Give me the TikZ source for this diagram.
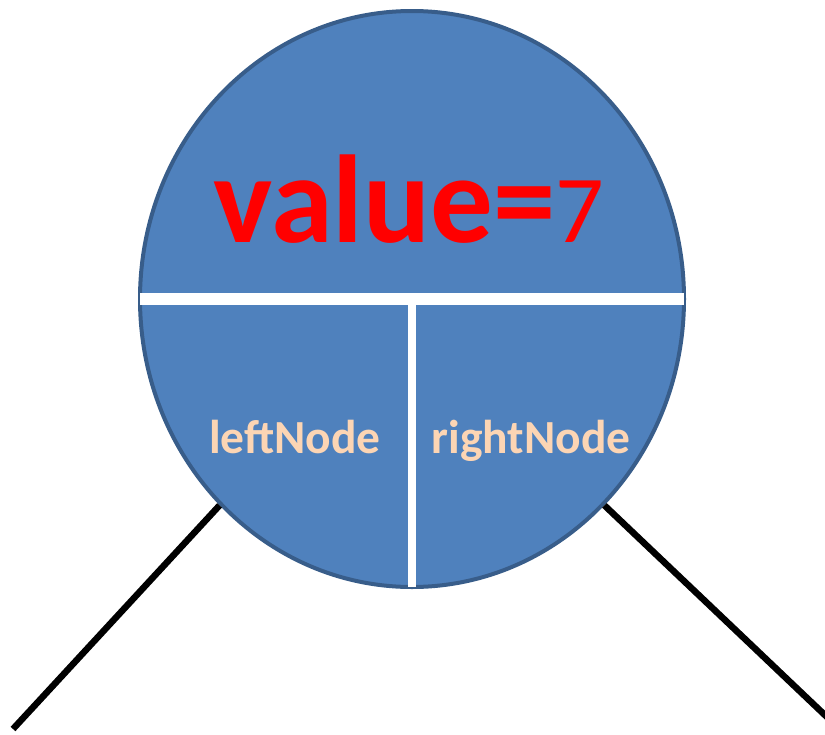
\documentclass[tikz,border=0pt]{standalone}
\usepackage{fontspec}
\setmainfont{Carlito}
\usetikzlibrary{shapes.geometric}
\definecolor{nodeblue}{HTML}{4F81BD}
\definecolor{nodeedge}{HTML}{385D8A}
\definecolor{peach}{HTML}{FCD5B4}

\begin{document}
\begin{tikzpicture}[x=1pt,y=-1pt]

\useasboundingbox (0,0) rectangle (825,734);

\node[ellipse,draw=nodeedge,fill=nodeblue,line width=4pt,minimum width=544pt,minimum height=576pt,inner sep=0pt] (tree) at (412,299) {};

%bars
\path[draw=white,line width=12pt] ([xshift=2pt]tree.west) -- ([xshift=-2pt]tree.east);
\path[draw=white,line width=8pt] (412,305) -- ([yshift=2pt]tree.south);

%value
\node[anchor=base,text=red,inner sep=0pt] (val) at (409,242) {\fontsize{125}{125}\selectfont\bfseries value=\mdseries\fontsize{96}{96}\selectfont 7};

%children
\node[anchor=base,text=peach,inner sep=0pt] (left) at (295,453) {\fontsize{47.5}{47.5}\selectfont\bfseries leftNode};
\node[anchor=base,text=peach,inner sep=0pt] (right) at (531,453) {\fontsize{47.5}{47.5}\selectfont\bfseries rightNode};

%links
\coordinate (lend) at (13,729);
\coordinate (rend) at (828,718);
\path[draw=black,line width=6.5pt] (tree.227) -- (lend);
\path[draw=black,line width=6.5pt] (tree.313) -- (rend);

\end{tikzpicture}
\end{document}
